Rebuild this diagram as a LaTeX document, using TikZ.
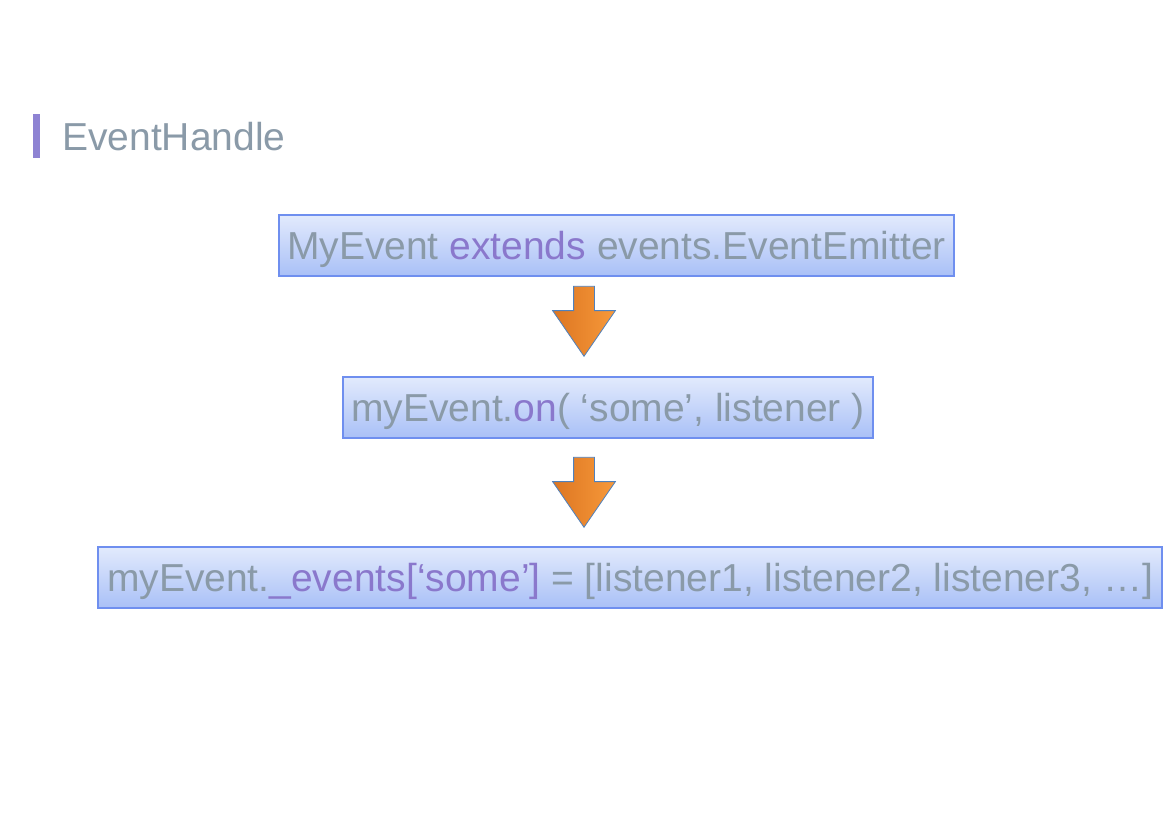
\documentclass[tikz,border=0pt]{standalone}
\usepackage{fontspec}
\setmainfont{Liberation Sans}
\usetikzlibrary{shapes.arrows,positioning}
\definecolor{textgray}{HTML}{8A9AA8}
\definecolor{keypurple}{HTML}{8A78CC}
\definecolor{barpurple}{HTML}{8E83D3}
\definecolor{boxtop}{HTML}{E2EAFC}
\definecolor{boxbot}{HTML}{A9C0F7}
\definecolor{boxline}{HTML}{6F8FEF}
\definecolor{arrowleft}{HTML}{DD7622}
\definecolor{arrowright}{HTML}{F7993A}
\definecolor{arrowline}{HTML}{4F81BD}
\newcommand{\kw}[1]{\textcolor{keypurple}{#1}}

\begin{document}
\begin{tikzpicture}[x=1pt, y=-1pt,
  codebox/.style={draw=boxline, line width=1.2pt, top color=boxtop, bottom color=boxbot,
    minimum width=#1, minimum height=61pt, inner sep=0pt, text height=28pt, text depth=0pt,
    text=textgray, font=\fontsize{39}{41}\selectfont},
  downarrow/.style={single arrow, shape border rotate=270, draw=arrowline, line width=0.8pt,
    left color=arrowleft, right color=arrowright, inner sep=10pt, anchor=tip,
    single arrow head extend=21pt, single arrow tip angle=69, minimum height=70pt}
]
  \useasboundingbox (0,0) rectangle (1169,826);

  % title
  \node[fill=barpurple, minimum width=7pt, minimum height=44pt, inner sep=0pt] (bar) at (36.5,136) {};
  \node[anchor=west, inner sep=0pt, text height=28pt, text depth=0pt, text=textgray,
    font=\fontsize{39}{41}\selectfont] (title) at (62,137) {EventHandle};

  % steps
  \node[codebox=675pt] (extend) at (616.5,245.5) {MyEvent \kw{extends} events.EventEmitter};
  \node[downarrow] (a1) at (584,357) {};
  \node[codebox=530pt] (listen) at (608,407.5) {myEvent.\kw{on}( ‘some’, listener )};
  \node[downarrow] (a2) at (584,528) {};
  \node[codebox=1064pt] (store) at (630,577.5) {myEvent.\kw{\_events[‘some’]} = [listener1, listener2, listener3, …]};
\end{tikzpicture}
\end{document}
